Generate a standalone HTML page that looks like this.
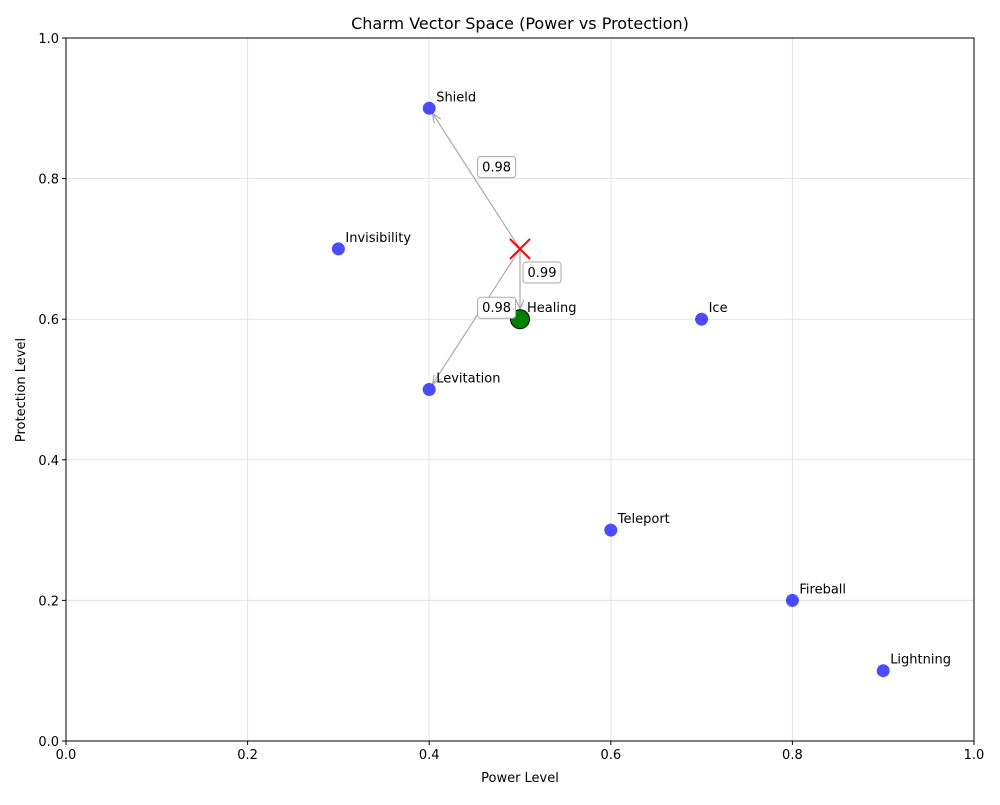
<!DOCTYPE html>
<html><head><meta charset="utf-8"><style>
body{margin:0;background:#fff;font-family:"Liberation Sans","DejaVu Sans",sans-serif}
svg text{font-family:"DejaVu Sans","Liberation Sans",sans-serif}
</style></head><body>
<svg id="chart" width="1000" height="800" xmlns="http://www.w3.org/2000/svg"></svg>
<script>
const names = ["Shield","Invisibility","Healing","Ice","Levitation","Teleport","Fireball","Lightning"];
const powerVals = [0.4,0.3,0.5,0.7,0.4,0.6,0.8,0.9];
const protectVals = [0.9,0.7,0.6,0.6,0.5,0.3,0.2,0.1];
const queryPoint = [0.5,0.7];
const matchNames = ["Shield","Healing","Levitation"];
const matchScores = ["0.98","0.99","0.98"];
const bestMatch = "Healing";
const xTicks = [0,0.2,0.4,0.6,0.8,1.0];
const yTicks = [0,0.2,0.4,0.6,0.8,1.0];

const L=66,R=974,T=38,B=741;
const sx=v=>L+(R-L)*v, sy=v=>B-(B-T)*v;
const svg=document.getElementById('chart');
const NS='http://www.w3.org/2000/svg';
function mk(tag,attrs,parent){const e=document.createElementNS(NS,tag);for(const k in attrs)e.setAttribute(k,attrs[k]);(parent||svg).appendChild(e);return e;}
function txt(s,attrs,parent){const e=mk('text',attrs,parent);e.textContent=s;return e;}

// grid
xTicks.forEach(t=>{const g=mk('line',{x1:sx(t),x2:sx(t),y1:T,y2:B,stroke:'#e3e3e3','stroke-width':1});

});
yTicks.forEach(t=>{const g=mk('line',{x1:L,x2:R,y1:sy(t),y2:sy(t),stroke:'#e3e3e3','stroke-width':1});

});

// arrows
matchNames.forEach((n,i)=>{
  const j=names.indexOf(n);
  const x0=sx(queryPoint[0]),y0=sy(queryPoint[1]),x1=sx(powerVals[j]),y1=sy(protectVals[j]);
  const dx=x1-x0,dy=y1-y0,len=Math.hypot(dx,dy),ux=dx/len,uy=dy/len;
  const ex=x1-ux*(n===bestMatch?10:6),ey=y1-uy*(n===bestMatch?10:6);
  const g=mk('g',{});
  
  
  mk('line',{x1:x0,y1:y0,x2:ex,y2:ey,stroke:'#aaa','stroke-width':1.2},g);
  const a=0.4,h=10;
  const p1=[ex-h*(ux*Math.cos(a)-uy*Math.sin(a)),ey-h*(uy*Math.cos(a)+ux*Math.sin(a))];
  const p2=[ex-h*(ux*Math.cos(-a)-uy*Math.sin(-a)),ey-h*(uy*Math.cos(-a)+ux*Math.sin(-a))];
  mk('polyline',{points:`${p1} ${ex},${ey} ${p2}`,fill:'none',stroke:'#aaa','stroke-width':1.2},g);
});

// points
names.forEach((n,i)=>{
  const best=n===bestMatch;
  const c=mk('circle',{cx:sx(powerVals[i]),cy:sy(protectVals[i]),r:best?9.5:6.5,fill:best?'#008000':'#0000ff','fill-opacity':best?1:0.7,stroke:best?'#000':'none','stroke-width':1});
  
  
  const t=txt(n,{x:sx(powerVals[i])+7,y:sy(protectVals[i])-7,'font-size':13,fill:'#000'});
  
  
});

// score labels
matchNames.forEach((n,i)=>{
  const j=names.indexOf(n);
  const mx=(sx(queryPoint[0])+sx(powerVals[j]))/2+22, my=(sy(queryPoint[1])+sy(protectVals[j]))/2-12;
  const g=mk('g',{});
  
  
  mk('rect',{x:mx-19,y:my-10,width:38,height:21,rx:3,fill:'#fff',stroke:'#aaa','stroke-width':1},g);
  txt(matchScores[i],{x:mx,y:my+5,'font-size':13,'text-anchor':'middle'},g);
});

// query marker
const q=mk('g',{});


const qx=sx(queryPoint[0]),qy=sy(queryPoint[1]);
mk('line',{x1:qx-10,y1:qy-10,x2:qx+10,y2:qy+10,stroke:'#ff0000','stroke-width':2},q);
mk('line',{x1:qx-10,y1:qy+10,x2:qx+10,y2:qy-10,stroke:'#ff0000','stroke-width':2},q);

// axes frame
const f=mk('rect',{x:L,y:T,width:R-L,height:B-T,fill:'none',stroke:'#000','stroke-width':1});


xTicks.forEach(t=>{mk('line',{x1:sx(t),x2:sx(t),y1:B,y2:B+4,stroke:'#000'});
const l=txt(t.toFixed(1),{x:sx(t),y:B+18,'font-size':13,'text-anchor':'middle'});

});
yTicks.forEach(t=>{mk('line',{x1:L-4,x2:L,y1:sy(t),y2:sy(t),stroke:'#000'});
const l=txt(t.toFixed(1),{x:L-7,y:sy(t)+5,'font-size':13,'text-anchor':'end'});

});
</script>
<svg width="1000" height="800" style="position:absolute;left:0;top:0;pointer-events:none" xmlns="http://www.w3.org/2000/svg">
<text x="520" y="29" font-size="16" text-anchor="middle">Charm Vector Space (Power vs Protection)</text>
<text x="520" y="782" font-size="13" text-anchor="middle">Power Level</text>
<text x="25" y="390" font-size="13" text-anchor="middle" transform="rotate(-90 25 390)">Protection Level</text>
</svg>
</body></html>
